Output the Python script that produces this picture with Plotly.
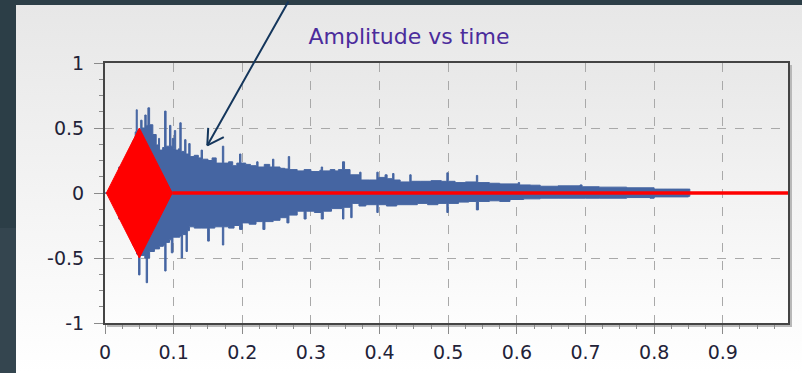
import base64
import plotly.graph_objects as go

# ---------------- data ----------------
# blue recorded signal: upper / lower envelope (time s, amplitude)
blue_t_upper = [0.000, 0.020, 0.040, 0.044, 0.0455, 0.047, 0.052, 0.054, 0.058, 0.060,
                0.0625, 0.065, 0.0697, 0.0746, 0.078, 0.0795, 0.084, 0.0868, 0.089, 0.094,
                0.096, 0.098, 0.100, 0.101, 0.103, 0.107, 0.109, 0.111, 0.116, 0.118,
                0.122, 0.124, 0.130, 0.136, 0.140, 0.142, 0.150, 0.156, 0.162, 0.171,
                0.173, 0.180, 0.186, 0.192, 0.196, 0.198, 0.205, 0.212, 0.221, 0.223,
                0.232, 0.240, 0.244, 0.246, 0.255, 0.262, 0.267, 0.269, 0.280, 0.290,
                0.300, 0.313, 0.315, 0.317, 0.328, 0.335, 0.340, 0.346, 0.349, 0.357,
                0.371, 0.373, 0.385, 0.396, 0.398, 0.405, 0.408, 0.411, 0.419, 0.421,
                0.430, 0.444, 0.446, 0.460, 0.475, 0.490, 0.498, 0.500, 0.510, 0.525,
                0.541, 0.543, 0.560, 0.575, 0.590, 0.602, 0.604, 0.620, 0.634, 0.660,
                0.692, 0.695, 0.720, 0.760, 0.794, 0.800, 0.850, 0.852]
blue_upper = [0.00, 0.20, 0.40, 0.47, 0.64, 0.48, 0.56, 0.50, 0.60, 0.52,
              0.655, 0.525, 0.45, 0.37, 0.42, 0.33, 0.35, 0.63, 0.36, 0.52,
              0.36, 0.42, 0.34, 0.48, 0.33, 0.34, 0.54, 0.32, 0.41, 0.30,
              0.38, 0.28, 0.29, 0.27, 0.33, 0.26, 0.25, 0.27, 0.23, 0.36,
              0.23, 0.24, 0.21, 0.23, 0.30, 0.23, 0.22, 0.21, 0.24, 0.20,
              0.22, 0.20, 0.26, 0.20, 0.19, 0.185, 0.28, 0.18, 0.17, 0.18,
              0.165, 0.175, 0.20, 0.17, 0.18, 0.17, 0.18, 0.24, 0.18, 0.14,
              0.16, 0.10, 0.10, 0.16, 0.12, 0.12, 0.14, 0.11, 0.15, 0.10,
              0.085, 0.14, 0.09, 0.09, 0.095, 0.09, 0.155, 0.09, 0.08, 0.085,
              0.135, 0.08, 0.075, 0.07, 0.07, 0.08, 0.062, 0.06, 0.052, 0.055,
              0.062, 0.048, 0.045, 0.04, 0.04, 0.03, 0.03, 0.00]

blue_t_lower = [0.000, 0.020, 0.040, 0.046, 0.0489, 0.051, 0.058, 0.060, 0.062, 0.065,
                0.072, 0.0795, 0.085, 0.087, 0.089, 0.094, 0.0966, 0.099, 0.105, 0.109,
                0.111, 0.113, 0.118, 0.120, 0.123, 0.130, 0.140, 0.1495, 0.152, 0.160,
                0.171, 0.173, 0.180, 0.188, 0.196, 0.200, 0.210, 0.220, 0.230, 0.233,
                0.245, 0.255, 0.265, 0.268, 0.280, 0.290, 0.293, 0.305, 0.315, 0.318,
                0.330, 0.346, 0.348, 0.358, 0.360, 0.370, 0.380, 0.396, 0.398, 0.410,
                0.425, 0.440, 0.455, 0.470, 0.485, 0.498, 0.500, 0.515, 0.530, 0.541,
                0.544, 0.560, 0.575, 0.590, 0.610, 0.634, 0.660, 0.700, 0.720, 0.760,
                0.794, 0.800, 0.850, 0.852]
blue_lower = [0.00, -0.20, -0.40, -0.47, -0.63, -0.48, -0.50, -0.69, -0.50, -0.45,
              -0.43, -0.41, -0.40, -0.60, -0.38, -0.36, -0.46, -0.34, -0.34, -0.33,
              -0.50, -0.32, -0.45, -0.29, -0.26, -0.27, -0.27, -0.37, -0.27, -0.26,
              -0.40, -0.26, -0.27, -0.25, -0.28, -0.23, -0.24, -0.22, -0.28, -0.22,
              -0.21, -0.19, -0.23, -0.17, -0.14, -0.20, -0.14, -0.15, -0.20, -0.14,
              -0.12, -0.20, -0.11, -0.19, -0.08, -0.10, -0.09, -0.15, -0.09, -0.10,
              -0.09, -0.09, -0.08, -0.09, -0.08, -0.15, -0.08, -0.07, -0.065, -0.13,
              -0.065, -0.06, -0.065, -0.05, -0.045, -0.04, -0.04, -0.04, -0.04, -0.035,
              -0.04, -0.03, -0.025, 0.00]

# red synthetic burst: envelope of the tone burst, then flat zero line
red_env_t = [0.002, 0.050, 0.098]
red_env_amp = [0.0, 0.5, 0.0]
red_line_t = [0.098, 1.0]
red_line_v = [0.0, 0.0]

x_tick_vals = [0, 0.1, 0.2, 0.3, 0.4, 0.5, 0.6, 0.7, 0.8, 0.9]
x_tick_text = ["0", "0.1", "0.2", "0.3", "0.4", "0.5", "0.6", "0.7", "0.8", "0.9"]
y_tick_vals = [-1, -0.5, 0, 0.5, 1]
y_tick_text = ["-1", "-0.5", "0", "0.5", "1"]
title_text = "Amplitude vs time"

# ---------------- figure ----------------
W, H = 802, 373
L, R, T, B = 105, 14, 63, 50
PW, PH = W - L - R, H - T - B
BLUE = "#4565a2"

red_x = red_env_t + red_env_t[::-1]
red_y = red_env_amp + [-a for a in red_env_amp[::-1]]

fig = go.Figure()
for tt, vv in ((blue_t_upper, blue_upper), (blue_t_lower, blue_lower)):
    fig.add_trace(go.Scatter(x=tt, y=vv, mode="lines", fill="tozeroy",
                             fillcolor=BLUE, line=dict(color=BLUE, width=1, shape="hv"),
                             hoverinfo="skip", showlegend=False))
fig.add_trace(go.Scatter(x=red_x, y=red_y, mode="lines", fill="toself",
                         fillcolor="#ff0000", line=dict(color="#ff0000", width=1),
                         hoverinfo="skip", showlegend=False))
fig.add_trace(go.Scatter(x=red_line_t, y=red_line_v, mode="lines",
                         line=dict(color="#ff0000", width=3.5),
                         hoverinfo="skip", showlegend=False))

svg = f'''<svg xmlns="http://www.w3.org/2000/svg" width="{W}" height="{H}" viewBox="0 0 {W} {H}" preserveAspectRatio="none">
<defs>
<linearGradient id="p" x1="0" y1="0" x2="0" y2="1"><stop offset="0" stop-color="#e7e7e7"/><stop offset="1" stop-color="#ffffff"/></linearGradient>
<linearGradient id="a" x1="0" y1="0" x2="0" y2="1"><stop offset="0" stop-color="#e8e8e8"/><stop offset="1" stop-color="#fdfdfd"/></linearGradient>
</defs>
<rect x="0" y="0" width="{W}" height="{H}" fill="#2c3e47"/>
<rect x="0" y="228" width="16" height="{H-228}" fill="#34454f"/>
<rect x="16" y="5" width="{W-16}" height="{H-5}" fill="url(#p)"/>
<rect x="{L+2}" y="{T+2}" width="{PW+2}" height="{PH+2}" fill="#b8b8b8"/>
<rect x="{L}" y="{T}" width="{PW}" height="{PH}" fill="url(#a)"/>
</svg>'''
src = "data:image/svg+xml;base64," + base64.b64encode(svg.encode()).decode()
fig.add_layout_image(dict(source=src, xref="paper", yref="paper",
                          x=-L / PW, y=(PH + T) / PH, sizex=W / PW, sizey=H / PH,
                          xanchor="left", yanchor="top", sizing="stretch", layer="below"))

# arrow pointing at the recorded signal
arrow_col = "#14365c"
fig.add_annotation(x=0.149, y=0.366, xref="x", yref="y", ax=82, ay=-152, text="",
                   showarrow=True, arrowhead=0, arrowwidth=2, arrowcolor=arrow_col)
fig.add_annotation(x=0.149, y=0.366, xref="x", yref="y", ax=18, ay=-9, text="",
                   showarrow=True, arrowhead=0, arrowwidth=2, arrowcolor=arrow_col)
fig.add_annotation(x=0.149, y=0.366, xref="x", yref="y", ax=1, ay=-19, text="",
                   showarrow=True, arrowhead=0, arrowwidth=2, arrowcolor=arrow_col)

tick_font = dict(family="DejaVu Sans", size=19, color="#222238")
axis_common = dict(showgrid=True, gridcolor="#a9a9a9", griddash="dash", gridwidth=1,
                   showline=True, linecolor="#444444", linewidth=2, mirror=True,
                   zeroline=False, ticks="outside", ticklen=9, tickcolor="#8a8a8a",
                   tickwidth=1, tickfont=tick_font, fixedrange=True, automargin=False)

fig.update_xaxes(range=[0, 0.995], tickmode="array", tickvals=x_tick_vals,
                 ticktext=x_tick_text, ticklabelstandoff=2,
                 minor=dict(tickmode="linear", tick0=0, dtick=0.025, ticks="outside",
                            ticklen=4, tickcolor="#8a8a8a", showgrid=False),
                 **axis_common)
fig.update_yaxes(range=[-1, 1], tickmode="array", tickvals=y_tick_vals,
                 ticktext=y_tick_text, ticklabelstandoff=6,
                 minor=dict(tickmode="linear", tick0=0, dtick=0.125, ticks="outside",
                            ticklen=4, tickcolor="#8a8a8a", showgrid=False),
                 **axis_common)

fig.update_layout(
    width=W, height=H, autosize=False,
    margin=dict(l=L, r=R, t=T, b=B, pad=0, autoexpand=False),
    paper_bgcolor="#2c3e47", plot_bgcolor="rgba(0,0,0,0)",
    title=dict(text=title_text, xref="paper", x=(409 - L) / PW, xanchor="center",
               yref="container", y=1 - 36 / H, yanchor="middle", automargin=False,
               font=dict(family="DejaVu Sans", size=22, color="#4b2c9c")),
    showlegend=False,
)

fig.write_html("out.html", include_plotlyjs=True, config={"displayModeBar": False})
